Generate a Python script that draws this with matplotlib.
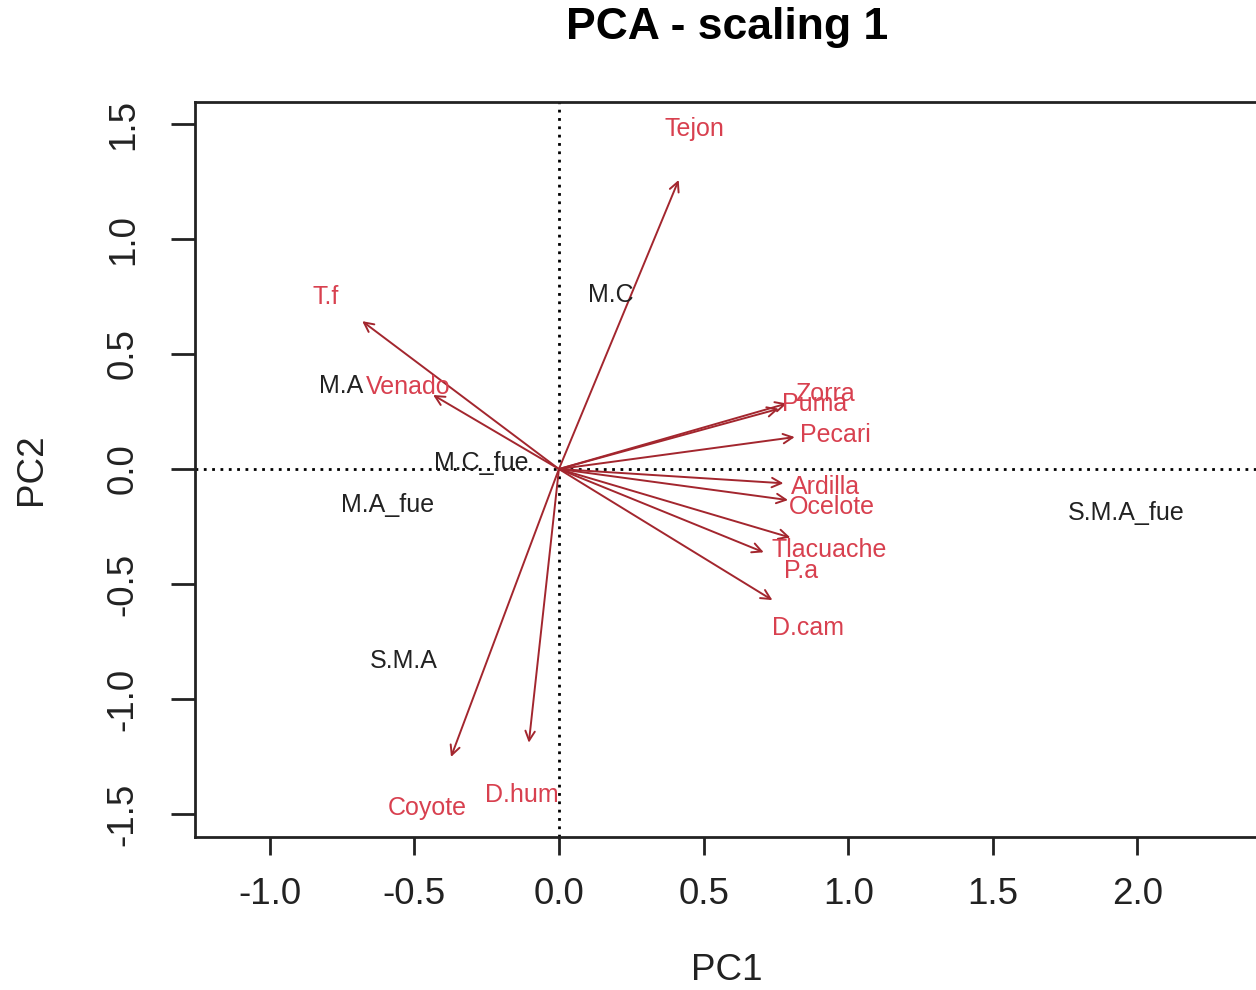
import numpy as np
import matplotlib.pyplot as plt

plt.rcParams['font.family'] = ['Liberation Sans', 'DejaVu Sans']

# species loadings (arrow tips, PC1 / PC2)
species = ["Tejon", "T.f", "Venado", "Zorra", "Puma", "Pecari", "Ardilla",
           "Ocelote", "Tlacuache", "P.a", "D.cam", "Coyote", "D.hum"]
sp_pc1 = [0.414, -0.680, -0.435, 0.788, 0.760, 0.815, 0.776,
          0.792, 0.800, 0.708, 0.738, -0.373, -0.104]
sp_pc2 = [1.257, 0.643, 0.322, 0.285, 0.262, 0.139, -0.062,
          -0.135, -0.298, -0.362, -0.570, -1.252, -1.190]

# where the species names are written
lab_pc1 = [0.470, -0.805, -0.522, 0.920, 0.885, 0.957, 0.922,
           0.943, 0.933, 0.837, 0.860, -0.456, -0.128]
lab_pc2 = [1.478, 0.748, 0.357, 0.326, 0.283, 0.148, -0.078,
           -0.165, -0.352, -0.443, -0.691, -1.474, -1.417]

# site scores
sites = ["M.C", "M.A", "M.C_fue", "M.A_fue", "S.M.A", "S.M.A_fue"]
site_pc1 = [0.178, -0.753, -0.270, -0.594, -0.535, 1.960]
site_pc2 = [0.757, 0.361, 0.026, -0.157, -0.835, -0.191]

xticks = [-1.0, -0.5, 0.0, 0.5, 1.0, 1.5, 2.0]
yticks = [-1.5, -1.0, -0.5, 0.0, 0.5, 1.0, 1.5]

arrow_col = "#A3262E"
text_col = "#D8404F"
dark = "#222222"

fig = plt.figure(figsize=(12.56, 9.90), dpi=100)
ax = fig.add_axes([195 / 1256, 153 / 990, 1064 / 1256, 735 / 990])

ax.axhline(0, color="black", lw=2, linestyle=(0, (1, 2)), zorder=1)
ax.axvline(0, color="black", lw=2, linestyle=(0, (1, 2)), zorder=1)

for name, x, y in zip(sites, site_pc1, site_pc2):
    ax.text(x, y, name, color=dark, fontsize=18,
            ha="center", va="center", zorder=3)

for x, y in zip(sp_pc1, sp_pc2):
    ax.annotate("", xy=(x, y), xytext=(0, 0),
                arrowprops=dict(arrowstyle="->", color=arrow_col, lw=1.4,
                                shrinkA=0, shrinkB=0, mutation_scale=17),
                zorder=2)

for name, x, y in zip(species, lab_pc1, lab_pc2):
    ax.text(x, y, name, color=text_col, fontsize=18,
            ha="center", va="center", zorder=3)

ax.set_xlim(-1.258, 2.420)
ax.set_ylim(-1.600, 1.596)
ax.set_xticks(xticks)
ax.set_yticks(yticks)
ax.set_xticklabels([f"{v:.1f}" for v in xticks])
ax.set_yticklabels([f"{v:.1f}" for v in yticks])

for side in ["left", "bottom", "top", "right"]:
    ax.spines[side].set_linewidth(2)
    ax.spines[side].set_color(dark)

ax.tick_params(axis="x", length=13, width=2, pad=16, labelsize=26.5,
               colors=dark)
ax.tick_params(axis="y", length=17, width=2, pad=22, labelsize=26.5,
               colors=dark)
plt.setp(ax.get_yticklabels(), rotation=90, va="center", ha="right")

fig.text(727 / 1256, 1 - 27 / 990, "PCA - scaling 1", fontsize=32,
         fontweight="bold", ha="center", va="center")
fig.text(727 / 1256, 1 - 970 / 990, "PC1", fontsize=26.5,
         ha="center", va="center", color=dark)
fig.text(31 / 1256, 1 - 469 / 990, "PC2", fontsize=26.5, rotation=90,
         ha="center", va="center", color=dark)

fig.savefig("out.png", dpi=100)
